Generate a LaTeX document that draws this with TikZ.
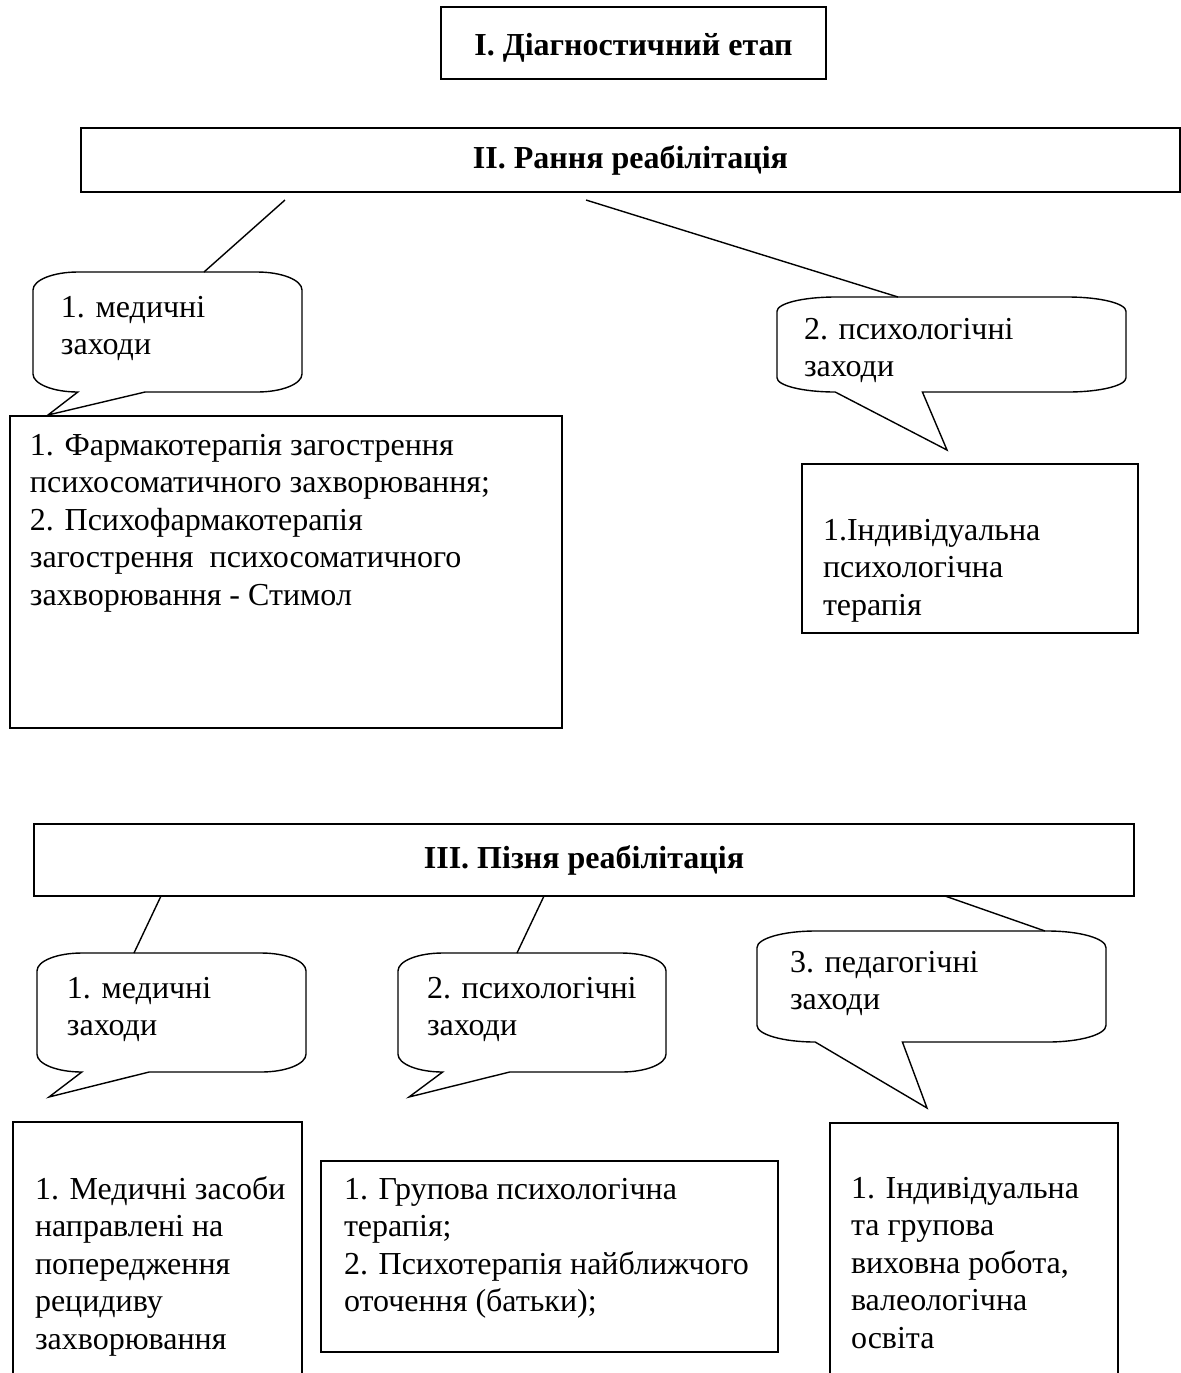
\documentclass[tikz,border=0pt]{standalone}
\usepackage{fontspec}
\setmainfont{Liberation Serif}
\usepackage{tikz}
\usetikzlibrary{positioning}
\usetikzlibrary{calc}

\tikzset{
	dims/.style 2 args={minimum width=#1*0.5pt, minimum height=#2*0.5pt},
	stage/.style={draw, line width=0.8pt, inner sep=0pt, outer sep=0pt,
		font=\fontsize{16pt}{18.75pt}\selectfont\bfseries},
	panel/.style={draw, line width=0.7pt, inner sep=0pt, outer sep=0pt},
	bubble/.style={inner sep=0pt, outer sep=0pt},
	% NOTE: the \strut goes into the first line of the text itself,
	%       so that the node top is always 0.7\baselineskip above it
	txt/.style={anchor=north west, inner sep=0pt, outer sep=0pt, align=left,
		yshift=13.125pt, font=\fontsize{16pt}{18.75pt}\selectfont},
	link/.style={line width=0.7pt},
}

% outline of a speech bubble round node #1, its tail ending in #2
\newcommand{\bubbleline}[2]{%
	\draw[line width=0.7pt, fill=white]
	let \p1=(#1.north west), \p2=(#1.south east),
	\n1={(\x2-\x1)/6}, \n2={(\y1-\y2)*0.15} in
	(\x1+\n1,\y1) -- (\x2-\n1,\y1)
	.. controls (\x2-0.448*\n1,\y1) and (\x2,\y1-0.448*\n2) .. (\x2,\y1-\n2)
	-- (\x2,\y2+\n2)
	.. controls (\x2,\y2+0.448*\n2) and (\x2-0.448*\n1,\y2) .. (\x2-\n1,\y2)
	-- (\x1+2.5*\n1,\y2) -- (#2) -- (\x1+\n1,\y2)
	.. controls (\x1+0.448*\n1,\y2) and (\x1,\y2+0.448*\n2) .. (\x1,\y2+\n2)
	-- (\x1,\y1-\n2)
	.. controls (\x1,\y1-0.448*\n2) and (\x1+0.448*\n1,\y1) .. (\x1+\n1,\y1)
	-- cycle;}

\begin{document}
\begin{tikzpicture}[x=0.5pt, y=-0.5pt]

	% page frame (pixels of the scan, y downwards)
	\useasboundingbox (0,0) rectangle (1181,1373);
	\clip (0,0) rectangle (1181,1373);

	%%%%%%%%%%%%%%%%%%%%%%%%%%%%%%%%%%%%%%%%%%%%%%%%%%%%%%%%%
	% the three stages
	\node[stage, dims={385}{72}, text height=12pt, text depth=0pt] (S1) at (633.5,43) {І. Діагностичний етап};
	\node[stage, dims={1099}{64}] (S2) at (630.5,160) {ІІ. Рання реабілітація};
	\node[stage, dims={1100}{72}] (S3) at (584,860) {ІІІ. Пізня реабілітація};

	%%%%%%%%%%%%%%%%%%%%%%%%%%%%%%%%%%%%%%%%%%%%%%%%%%%%%%%%%
	% early rehabilitation
	\node[bubble, dims={269}{120}] (B1) at (167.5,332) {};
	\node[bubble, dims={349}{95}]  (B2) at (951.5,344.5) {};
	\coordinate (tip1) at (48,415);
	\coordinate (tip2) at (947,450);

	\node[panel, dims={552}{312}] (P1) at (286,572) {};
	\node[panel, dims={336}{169}] (P2) at (970,548.5) {};

	\bubbleline{B1}{tip1}
	\bubbleline{B2}{tip2}

	\node[txt] (T1) at (61,317) {\strut 1. медичні\\заходи};
	\node[txt] (T2) at (804,339) {\strut 2. психологічні\\заходи};
	\node[txt] (T3) at (30,455) {\strut 1. Фармакотерапія загострення\\
		психосоматичного захворювання;\\
		2. Психофармакотерапія\\
		загострення\ \ психосоматичного\\
		захворювання - Стимол};
	\node[txt] (T4) at (823,540) {\strut 1.Індивідуальна\\психологічна\\терапія};

	% free ends just under the stage box
	\coordinate (e1) at (285,200);
	\coordinate (e2) at (586,200);
	\draw[link] (e1) -- ($(B1.north west)+(171,0)$);
	\draw[link] (e2) -- ($(B2.north west)+(121,0)$);

	%%%%%%%%%%%%%%%%%%%%%%%%%%%%%%%%%%%%%%%%%%%%%%%%%%%%%%%%%
	% late rehabilitation
	\node[bubble, dims={269}{119}] (B3) at (171.5,1012.5) {};
	\node[bubble, dims={268}{119}] (B4) at (532,1012.5) {};
	\node[bubble, dims={349}{111}] (B5) at (931.5,986.5) {};
	\coordinate (tip3) at (49,1097);
	\coordinate (tip4) at (409,1097);
	\coordinate (tip5) at (927,1108);

	\node[panel, dims={289}{298}] (P3) at (157.5,1271) {};
	\node[panel, dims={457}{191}] (P4) at (549.5,1256.5) {};
	\node[panel, dims={288}{297}] (P5) at (974,1271.5) {};

	\bubbleline{B3}{tip3}
	\bubbleline{B4}{tip4}
	\bubbleline{B5}{tip5}

	\node[txt] (T5) at (67,998) {\strut 1. медичні\\заходи};
	\node[txt] (T6) at (427,998) {\strut 2. психологічні\\заходи};
	\node[txt] (T7) at (790,972) {\strut 3. педагогічні\\заходи};
	\node[txt] (T8) at (35,1199) {\strut 1. Медичні засоби\\направлені на\\попередження\\рецидиву\\захворювання};
	\node[txt] (T9) at (344,1199) {\strut 1. Групова психологічна\\терапія;\\2. Психотерапія найближчого\\оточення (батьки);};
	\node[txt] (T10) at (851,1198) {\strut 1. Індивідуальна\\та групова\\виховна робота,\\валеологічна\\освіта};

	\draw[link] ($(S3.south west)+(127,0)$) -- ($(B3.north west)+(97,0)$);
	\draw[link] ($(S3.south west)+(510,0)$) -- ($(B4.north west)+(119,0)$);
	\draw[link] ($(S3.south west)+(911,0)$) -- ($(B5.north west)+(288,0)$);

\end{tikzpicture}
\end{document}
